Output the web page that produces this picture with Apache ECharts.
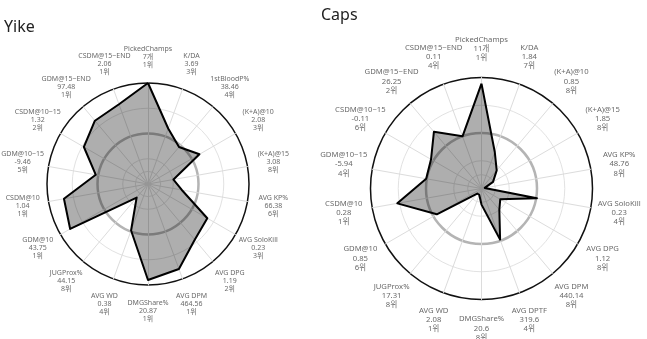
<!DOCTYPE html>
<html>
<head>
<meta charset="utf-8">
<script src="https://cdn.jsdelivr.net/npm/echarts@6/dist/echarts.min.js"></script>
<style>
html,body{margin:0;padding:0;background:#fff;}
#c{width:647px;height:339px;}
</style>
</head>
<body>
<div id="c"></div>
<script>
// ---- Data ----
const yikeCategories = ['PickedChamps','K/DA','1stBloodP%','(K+A)@10','(K+A)@15','AVG KP%','AVG SoloKill','AVG DPG','AVG DPM','DMGShare%','AVG WD','JUGProx%','GDM@10','CSDM@10','GDM@10~15','CSDM@10~15','GDM@15~END','CSDM@15~END'];
const yikeValues = ['7개','3.69','38.46','2.08','3.08','66.38','0.23','1.19','464.56','20.87','0.38','44.15','43.75','1.04','-9.46','1.32','97.48','2.06'];
const yikeRanks = ['1위','3위','4위','3위','8위','6위','3위','2위','1위','1위','4위','8위','1위','1위','5위','2위','1위','1위'];
const yikeScores = [1.0, 0.585, 0.478, 0.588, 0.256, 0.34, 0.678, 0.72, 0.895, 0.95, 0.49, 0.175, 0.89, 0.845, 0.525, 0.733, 0.818, 0.84];

const capsCategories = ['PickedChamps','K/DA','(K+A)@10','(K+A)@15','AVG KP%','AVG SoloKill','AVG DPG','AVG DPM','AVG DPTF','DMGShare%','AVG WD','JUGProx%','GDM@10','CSDM@10','GDM@10~15','CSDM@10~15','GDM@15~END','CSDM@15~END'];
const capsValues = ['11개','1.84','0.85','1.85','48.76','0.23','1.12','440.14','319.6','20.6','2.08','17.31','0.85','0.28','-5.94','-0.11','26.25','0.11'];
const capsRanks = ['1위','7위','8위','8위','8위','4위','8위','8위','4위','8위','1위','8위','6위','1위','4위','6위','2위','4위'];
const capsScores = [0.945, 0.35, 0.213, 0.12, 0.03, 0.507, 0.195, 0.25, 0.49, 0.145, 0.06, 0.06, 0.465, 0.77, 0.506, 0.525, 0.667, 0.5];

const FONT = "'Noto Sans', 'Noto Sans CJK KR', sans-serif";
const LABEL_R = 1.26;

// radar places indicators counter-clockwise: reorder so the visual order is clockwise
function ccw(arr){ return [arr[0]].concat(arr.slice(1).reverse()); }

function buildChart(cats, vals, ranks, scores, center, radius, fontSize, lineHeight, idx){
  const ind = ccw(cats).map(n => ({name:n, min:0, max:1}));
  const radars = [
    {center:center, radius:radius, shape:'circle', splitNumber:8, indicator:ind, startAngle:90,
     axisName:{show:false},
     axisLine:{lineStyle:{color:'#dcdcdc', width:1}},
     splitLine:{lineStyle:{color:['transparent','#e2e2e2','#e2e2e2','transparent','transparent','transparent','#e2e2e2','transparent','transparent'], width:1}},
     splitArea:{show:false}},
    {center:center, radius:radius, shape:'circle', splitNumber:2, indicator:ind, startAngle:90,
     axisName:{show:false}, axisLine:{show:false},
     splitLine:{lineStyle:{color:['transparent','#b4b4b4','transparent'], width:2.5}},
     splitArea:{show:false}},
    {center:center, radius:radius, shape:'circle', splitNumber:1, indicator:ind, startAngle:90,
     axisName:{show:false}, axisLine:{show:false},
     splitLine:{lineStyle:{color:['transparent','#111'], width:1.5}},
     splitArea:{show:false}}
  ];
  const polar = {center:center, radius:radius*1.3};
  const angleAxis = {polarIndex:idx, type:'value', min:0, max:360, startAngle:90, clockwise:true, show:false};
  const radiusAxis = {polarIndex:idx, type:'value', min:0, max:1.3, show:false};
  const n = cats.length;
  const series = [
    {type:'radar', radarIndex:idx*3, symbol:'none', z:5,
     lineStyle:{color:'#000', width:2},
     areaStyle:{color:'rgba(0,0,0,0.45)'},
     data:[{value:ccw(scores)}], silent:true},
    {type:'scatter', coordinateSystem:'polar', polarIndex:idx, symbolSize:1, silent:true,
     itemStyle:{color:'rgba(0,0,0,0)'},
     data:cats.map((c,i)=>({value:[LABEL_R, i*360/n], name:c})),
     label:{show:true, position:'inside', color:'#444', fontSize:fontSize, lineHeight:lineHeight, fontFamily:FONT, align:'center', verticalAlign:'middle',
       formatter:p => cats[p.dataIndex] + '\n' + vals[p.dataIndex] + '\n' + ranks[p.dataIndex]}}
  ];
  return {radars, polar, angleAxis, radiusAxis, series};
}

const a = buildChart(yikeCategories, yikeValues, yikeRanks, yikeScores, [148,184], 101, 7, 8, 0);
const b = buildChart(capsCategories, capsValues, capsRanks, capsScores, [481.5,188.5], 111, 7.7, 9.2, 1);

const chart = echarts.init(document.getElementById('c'), null, {renderer:'canvas'});
chart.setOption({
  animation:false,
  backgroundColor:'#fff',
  title:[
    {text:'Yike', left:4, top:19, padding:0, textStyle:{fontSize:16, fontWeight:'normal', color:'#222', fontFamily:FONT}},
    {text:'Caps', left:321, top:7, padding:0, textStyle:{fontSize:16, fontWeight:'normal', color:'#222', fontFamily:FONT}}
  ],
  radar: a.radars.concat(b.radars),
  polar:[a.polar, b.polar],
  angleAxis:[a.angleAxis, b.angleAxis],
  radiusAxis:[a.radiusAxis, b.radiusAxis],
  series: a.series.map(s=>s).concat(b.series.map(s => s.type==='radar' ? Object.assign({}, s, {radarIndex:3}) : s))
});
</script>
</body>
</html>
